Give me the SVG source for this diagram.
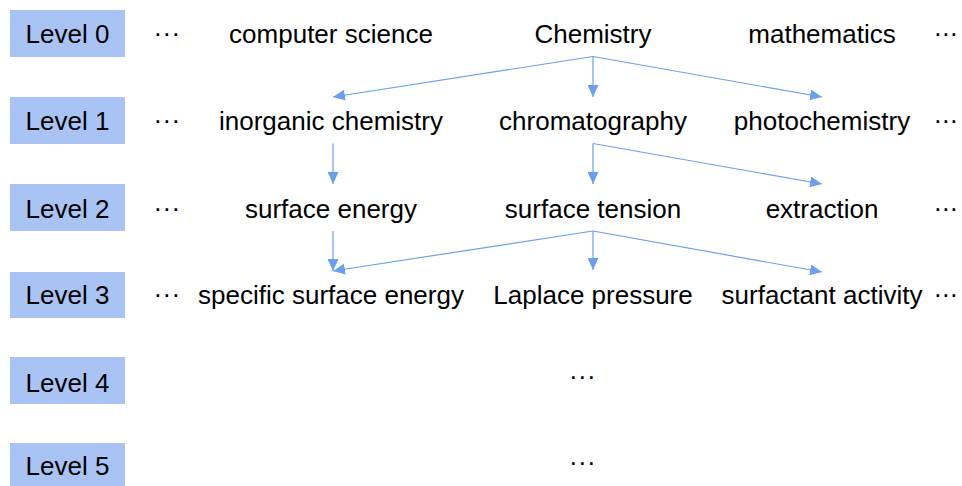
<svg xmlns="http://www.w3.org/2000/svg" width="962" height="486" viewBox="0 0 962 486">
<style>
text{font-family:"Liberation Sans",Arial,sans-serif;font-size:26px;fill:#000}
.lvl rect{fill:#a9c4f4}
.lvl text,.n text{text-anchor:middle}
.c line{stroke:#6d9eeb;stroke-width:1.2;fill:none}
</style>
<defs>
<marker id="ah" markerUnits="userSpaceOnUse" markerWidth="12" markerHeight="11" refX="12" refY="5.5" orient="auto"><path d="M0,0 L12,5.5 L0,11 z" fill="#6d9eeb"/></marker>
</defs>
<rect width="962" height="486" fill="#fff"/>
<g class="lvl">
<g id="level0"><rect x="10" y="10" width="115" height="47"/><text x="67.5" y="43">Level 0</text></g>
<g id="level1"><rect x="10" y="97" width="115" height="47"/><text x="67.5" y="130">Level 1</text></g>
<g id="level2"><rect x="10" y="184" width="115" height="47"/><text x="67.5" y="218">Level 2</text></g>
<g id="level3"><rect x="10" y="272" width="115" height="46"/><text x="67.5" y="304">Level 3</text></g>
<g id="level4"><rect x="10" y="357" width="115" height="47"/><text x="67.5" y="392">Level 4</text></g>
<g id="level5"><rect x="10" y="443" width="115" height="47"/><text x="67.5" y="475">Level 5</text></g>
</g>
<g class="n">
<g id="n-cs"><text x="331" y="43">computer science</text></g>
<g id="n-chem"><text x="593" y="43">Chemistry</text></g>
<g id="n-math"><text x="822" y="43">mathematics</text></g>
<g id="n-inorg"><text x="331" y="130">inorganic chemistry</text></g>
<g id="n-chrom"><text x="593" y="130">chromatography</text></g>
<g id="n-photo"><text x="822" y="130">photochemistry</text></g>
<g id="n-se"><text x="331" y="218">surface energy</text></g>
<g id="n-st"><text x="593" y="218">surface tension</text></g>
<g id="n-ext"><text x="822" y="218">extraction</text></g>
<g id="n-sse"><text x="331" y="304">specific surface energy</text></g>
<g id="n-lp"><text x="593" y="304">Laplace pressure</text></g>
<g id="n-sa"><text x="822" y="304">surfactant activity</text></g>
</g>
<g id="dots">
<text x="153.5 162.5 171.5" y="42">···</text>
<text x="153.5 162.5 171.5" y="129">···</text>
<text x="153.5 162.5 171.5" y="217">···</text>
<text x="153.5 162.5 171.5" y="303">···</text>
<text x="933.5 941.5 949.5" y="42">···</text>
<text x="933.5 941.5 949.5" y="129">···</text>
<text x="933.5 941.5 949.5" y="217">···</text>
<text x="933.5 941.5 949.5" y="303">···</text>
<text x="569 578 587" y="385">···</text>
<text x="569 578 587" y="471">···</text>
</g>
<g class="c" id="connectors">
<line x1="593" y1="56.5" x2="333" y2="97" marker-end="url(#ah)"/>
<line x1="593" y1="56.5" x2="593" y2="97" marker-end="url(#ah)"/>
<line x1="593" y1="56.5" x2="822" y2="97" marker-end="url(#ah)"/>
<line x1="333" y1="143.5" x2="333" y2="184" marker-end="url(#ah)"/>
<line x1="593" y1="143.5" x2="593" y2="184" marker-end="url(#ah)"/>
<line x1="593" y1="143.5" x2="822" y2="184" marker-end="url(#ah)"/>
<line x1="333" y1="231" x2="333" y2="271" marker-end="url(#ah)"/>
<line x1="593" y1="231" x2="333" y2="271" marker-end="url(#ah)"/>
<line x1="593" y1="231" x2="593" y2="270" marker-end="url(#ah)"/>
<line x1="593" y1="231" x2="822" y2="272" marker-end="url(#ah)"/>
</g>
</svg>
